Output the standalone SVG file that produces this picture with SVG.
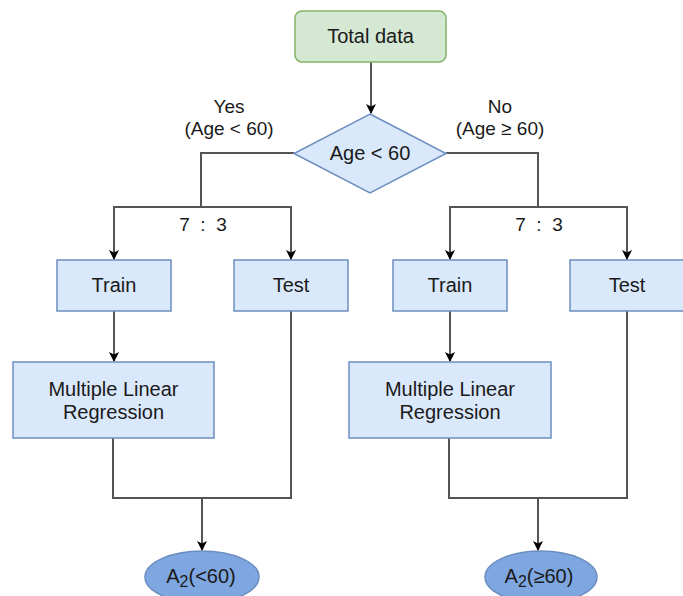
<svg xmlns="http://www.w3.org/2000/svg" width="683" height="596" viewBox="0 0 683 596">
<style>
text{font-family:"Liberation Sans",Arial,sans-serif;font-size:20px;fill:#1a1a1a;text-anchor:middle}
.box{fill:#dae8fc;stroke:#6c8ebf;stroke-width:1.5}
.green{fill:#d5e8d4;stroke:#82b366;stroke-width:1.5}
.ell{fill:#7ea6e0;stroke:#6c8ebf;stroke-width:1.5}
.c{fill:none;stroke:#555;stroke-width:2}
.lbl{font-size:19px}
</style>
<defs>
<marker id="ah" markerWidth="10" markerHeight="10" refX="9" refY="5" orient="auto" markerUnits="userSpaceOnUse">
<path d="M0,0 L10,5 L0,10 L2.5,5 Z" fill="#000"/>
</marker>
</defs>
<rect width="683" height="596" fill="#fff"/>
<g id="connectors">
<path class="c" d="M371,62 V113" marker-end="url(#ah)"/>
<path class="c" d="M294,153 H201 V207"/>
<path class="c" d="M201,207 H114 V259" marker-end="url(#ah)"/>
<path class="c" d="M201,207 H291 V259" marker-end="url(#ah)"/>
<path class="c" d="M446,153 H538 V207"/>
<path class="c" d="M538,207 H450 V259" marker-end="url(#ah)"/>
<path class="c" d="M538,207 H627 V259" marker-end="url(#ah)"/>
<path class="c" d="M114,311 V361" marker-end="url(#ah)"/>
<path class="c" d="M450,311 V361" marker-end="url(#ah)"/>
<path class="c" d="M113,438 V498 H291 V311"/>
<path class="c" d="M202,498 V550" marker-end="url(#ah)"/>
<path class="c" d="M449,438 V498 H627 V311"/>
<path class="c" d="M538,498 V550" marker-end="url(#ah)"/>
</g>
<g id="labels">
<text class="lbl" x="229" y="113">Yes</text>
<text class="lbl" x="229" y="135">(Age &lt; 60)</text>
<text class="lbl" x="500" y="113">No</text>
<text class="lbl" x="500" y="135">(Age ≥ 60)</text>
<text class="lbl" x="203" y="231" xml:space="preserve">7  :  3</text>
<text class="lbl" x="539" y="231" xml:space="preserve">7  :  3</text>
</g>
<g id="total">
<rect class="green" x="295" y="11" width="151" height="51" rx="7"/>
<text x="370.5" y="43">Total data</text>
</g>
<g id="decision">
<polygon class="box" points="370,114 446,153.5 370,193 294,153.5"/>
<text x="370" y="160">Age &lt; 60</text>
</g>
<g id="train-left">
<rect class="box" x="57" y="260" width="114" height="51"/>
<text x="114" y="292">Train</text>
</g>
<g id="test-left">
<rect class="box" x="234" y="260" width="114" height="51"/>
<text x="291" y="292">Test</text>
</g>
<g id="train-right">
<rect class="box" x="393" y="260" width="114" height="51"/>
<text x="450" y="292">Train</text>
</g>
<g id="test-right">
<rect class="box" x="570" y="260" width="114" height="51"/>
<text x="627" y="292">Test</text>
</g>
<g id="mlr-left">
<rect class="box" x="13" y="362" width="201" height="76"/>
<text x="113.5" y="396">Multiple Linear</text>
<text x="113.5" y="419">Regression</text>
</g>
<g id="mlr-right">
<rect class="box" x="349" y="362" width="202" height="76"/>
<text x="450" y="396">Multiple Linear</text>
<text x="450" y="419">Regression</text>
</g>
<g id="result-left">
<ellipse class="ell" cx="202" cy="577" rx="57" ry="26"/>
<text x="201" y="583">A<tspan font-size="16" dy="4">2</tspan><tspan dy="-4">(&lt;60)</tspan></text>
</g>
<g id="result-right">
<ellipse class="ell" cx="541" cy="577" rx="56" ry="26"/>
<text x="539" y="583">A<tspan font-size="16" dy="4">2</tspan><tspan dy="-4">(≥60)</tspan></text>
</g>
</svg>
